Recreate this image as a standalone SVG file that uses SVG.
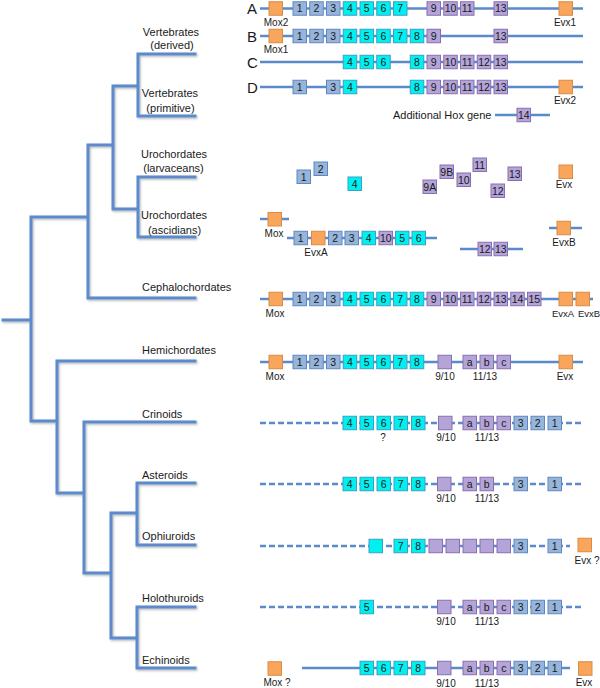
<svg xmlns="http://www.w3.org/2000/svg" width="600" height="688" viewBox="0 0 600 688">
<defs>
<style>
text{font-family:"Liberation Sans",Arial,sans-serif;fill:#1a1a1a}
.tx{font-size:11px}
.c{text-anchor:middle}
.sm{font-size:10px}
.xs{font-size:9.5px}
.n{font-size:10.5px;text-anchor:middle}
.big{font-size:15px}
rect{width:13.5px;height:13.5px;stroke-width:1}
.lb{fill:#97B5DA;stroke:#5F87C0}
.cy{fill:#00F0F0;stroke:#3AA0C4}
.pu{fill:#B4A4D8;stroke:#8670B2}
.or{fill:#F9A55B;stroke:#D98B45}
.gl{stroke:#5B8ACB;stroke-width:2.5;fill:none}
.d{stroke-dasharray:6 3}
.tr{stroke:#5B8ACB;stroke-width:3;fill:none;stroke-linecap:square}
</style>
<filter id="sh" x="-10%" y="-10%" width="130%" height="130%"><feDropShadow dx="1" dy="1.2" stdDeviation="0.8" flood-color="#000" flood-opacity="0.3"/></filter>
</defs>
<rect x="0" y="0" width="600" height="688" style="fill:#fff;stroke:none;width:600px;height:688px"/>

<g id="tree" filter="url(#sh)">
<path class="tr" d="M3 320H31M31 217V421M31 217H88M88 145V298M88 298H195M88 145H113M113 86V209M113 86H138M138 54V116M138 54H195M138 116H195M113 209H138M138 177V237M138 177H195M138 237H195M31 421H57M57 361V493M57 361H195M57 493H84M84 422V573M84 422H195M84 573H111M111 513V638M111 513H137M137 483V545M137 483H195M137 545H195M111 638H137M137 607V668M137 607H195M137 668H195"/>
</g>

<g id="taxa" class="tx">
<text class="tx c" x="171" y="36">Vertebrates</text>
<text class="tx c" x="172" y="49">(derived)</text>
<text class="tx c" x="170" y="97">Vertebrates</text>
<text class="tx c" x="170.5" y="112">(primitive)</text>
<text class="tx c" x="174" y="158">Urochordates</text>
<text class="tx c" x="173.5" y="172">(larvaceans)</text>
<text class="tx c" x="174" y="219">Urochordates</text>
<text class="tx c" x="174.5" y="234">(ascidians)</text>
<text class="tx" x="142" y="291">Cephalochordates</text>
<text class="tx" x="142" y="354">Hemichordates</text>
<text class="tx" x="142" y="418">Crinoids</text>
<text class="tx" x="142" y="479">Asteroids</text>
<text class="tx" x="142" y="540">Ophiuroids</text>
<text class="tx" x="142" y="602">Holothuroids</text>
<text class="tx" x="142" y="664">Echinoids</text>
</g>

<g id="connectors">
<path class="gl" d="M260 8.5H583M260 36H583M260 62H583M260 87H583M495 115H550M260 219H289M287 238H437M460 249H523M549 228H582M260 299H593M260 362H583M302 668H570"/>
<path class="gl d" d="M260 423H582M260 484H582M260 546H570M260 607H582"/>
</g>

<g id="rowA">
<text class="big" x="247" y="14">A</text>
<rect class="or" x="269" y="1.75"/>
<rect class="lb" x="293" y="1.75"/><text class="n" x="299.75" y="12.2">1</text>
<rect class="lb" x="309.75" y="1.75"/><text class="n" x="316.5" y="12.2">2</text>
<rect class="lb" x="326.5" y="1.75"/><text class="n" x="333.25" y="12.2">3</text>
<rect class="cy" x="343.25" y="1.75"/><text class="n" x="350" y="12.2">4</text>
<rect class="cy" x="360" y="1.75"/><text class="n" x="366.75" y="12.2">5</text>
<rect class="cy" x="376.75" y="1.75"/><text class="n" x="383.5" y="12.2">6</text>
<rect class="cy" x="393.5" y="1.75"/><text class="n" x="400.25" y="12.2">7</text>
<rect class="pu" x="427" y="1.75"/><text class="n" x="433.75" y="12.2">9</text>
<rect class="pu" x="443.75" y="1.75"/><text class="n" x="450.5" y="12.2">10</text>
<rect class="pu" x="460.5" y="1.75"/><text class="n" x="467.25" y="12.2">11</text>
<rect class="pu" x="494" y="1.75"/><text class="n" x="500.75" y="12.2">13</text>
<rect class="or" x="559" y="1.75"/>
<text class="sm c" x="276" y="26">Mox2</text>
<text class="sm c" x="565" y="26">Evx1</text>
</g>

<g id="rowB">
<text class="big" x="247" y="41.5">B</text>
<rect class="or" x="269" y="29.25"/>
<rect class="lb" x="293" y="29.25"/><text class="n" x="299.75" y="39.7">1</text>
<rect class="lb" x="309.75" y="29.25"/><text class="n" x="316.5" y="39.7">2</text>
<rect class="lb" x="326.5" y="29.25"/><text class="n" x="333.25" y="39.7">3</text>
<rect class="cy" x="343.25" y="29.25"/><text class="n" x="350" y="39.7">4</text>
<rect class="cy" x="360" y="29.25"/><text class="n" x="366.75" y="39.7">5</text>
<rect class="cy" x="376.75" y="29.25"/><text class="n" x="383.5" y="39.7">6</text>
<rect class="cy" x="393.5" y="29.25"/><text class="n" x="400.25" y="39.7">7</text>
<rect class="cy" x="410.25" y="29.25"/><text class="n" x="417" y="39.7">8</text>
<rect class="pu" x="427" y="29.25"/><text class="n" x="433.75" y="39.7">9</text>
<rect class="pu" x="494" y="29.25"/><text class="n" x="500.75" y="39.7">13</text>
<text class="sm c" x="276" y="53">Mox1</text>
</g>

<g id="rowC">
<text class="big" x="247" y="67.5">C</text>
<rect class="cy" x="343.25" y="55.25"/><text class="n" x="350" y="65.7">4</text>
<rect class="cy" x="360" y="55.25"/><text class="n" x="366.75" y="65.7">5</text>
<rect class="cy" x="376.75" y="55.25"/><text class="n" x="383.5" y="65.7">6</text>
<rect class="cy" x="410.25" y="55.25"/><text class="n" x="417" y="65.7">8</text>
<rect class="pu" x="427" y="55.25"/><text class="n" x="433.75" y="65.7">9</text>
<rect class="pu" x="443.75" y="55.25"/><text class="n" x="450.5" y="65.7">10</text>
<rect class="pu" x="460.5" y="55.25"/><text class="n" x="467.25" y="65.7">11</text>
<rect class="pu" x="477.25" y="55.25"/><text class="n" x="484" y="65.7">12</text>
<rect class="pu" x="494" y="55.25"/><text class="n" x="500.75" y="65.7">13</text>
</g>

<g id="rowD">
<text class="big" x="247" y="92.5">D</text>
<rect class="lb" x="293" y="80.25"/><text class="n" x="299.75" y="90.7">1</text>
<rect class="lb" x="326.5" y="80.25"/><text class="n" x="333.25" y="90.7">3</text>
<rect class="cy" x="343.25" y="80.25"/><text class="n" x="350" y="90.7">4</text>
<rect class="cy" x="410.25" y="80.25"/><text class="n" x="417" y="90.7">8</text>
<rect class="pu" x="427" y="80.25"/><text class="n" x="433.75" y="90.7">9</text>
<rect class="pu" x="443.75" y="80.25"/><text class="n" x="450.5" y="90.7">10</text>
<rect class="pu" x="460.5" y="80.25"/><text class="n" x="467.25" y="90.7">11</text>
<rect class="pu" x="477.25" y="80.25"/><text class="n" x="484" y="90.7">12</text>
<rect class="pu" x="494" y="80.25"/><text class="n" x="500.75" y="90.7">13</text>
<rect class="or" x="559" y="80.25"/>
<text class="sm c" x="565" y="104">Evx2</text>
</g>

<g id="extraHox">
<text class="tx" x="393" y="119">Additional Hox gene</text>
<rect class="pu" x="517" y="108.25"/><text class="n" x="523.75" y="118.7">14</text>
</g>

<g id="larvaceans">
<rect class="lb" x="297" y="170"/><text class="n" x="303.75" y="180.7">1</text>
<rect class="lb" x="314" y="162"/><text class="n" x="320.75" y="172.7">2</text>
<rect class="cy" x="348" y="177"/><text class="n" x="354.75" y="187.7">4</text>
<rect class="pu" x="423" y="180"/><text class="n" x="429.75" y="190.7">9A</text>
<rect class="pu" x="440" y="165"/><text class="n" x="446.75" y="175.7">9B</text>
<rect class="pu" x="457" y="173"/><text class="n" x="463.75" y="183.7">10</text>
<rect class="pu" x="473" y="158"/><text class="n" x="479.75" y="168.7">11</text>
<rect class="pu" x="491" y="184"/><text class="n" x="497.75" y="194.7">12</text>
<rect class="pu" x="508" y="167"/><text class="n" x="514.75" y="177.7">13</text>
<rect class="or" x="559" y="165"/>
<text class="sm c" x="564" y="188">Evx</text>
</g>

<g id="ascidians">
<rect class="or" x="268" y="212.5"/>
<text class="sm c" x="274" y="237">Mox</text>
<rect class="lb" x="294" y="231.25"/><text class="n" x="300.75" y="241.7">1</text>
<rect class="or" x="311.5" y="231.25"/>
<rect class="lb" x="328.5" y="231.25"/><text class="n" x="335.25" y="241.7">2</text>
<rect class="lb" x="345" y="231.25"/><text class="n" x="351.75" y="241.7">3</text>
<rect class="cy" x="362" y="231.25"/><text class="n" x="368.75" y="241.7">4</text>
<rect class="pu" x="379" y="231.25"/><text class="n" x="385.75" y="241.7">10</text>
<rect class="cy" x="395.5" y="231.25"/><text class="n" x="402.25" y="241.7">5</text>
<rect class="cy" x="412" y="231.25"/><text class="n" x="418.75" y="241.7">6</text>
<text class="sm c" x="316" y="256">EvxA</text>
<rect class="pu" x="478" y="242.25"/><text class="n" x="484.75" y="252.7">12</text>
<rect class="pu" x="494" y="242.25"/><text class="n" x="500.75" y="252.7">13</text>
<rect class="or" x="557" y="221.25"/>
<text class="sm c" x="564" y="246">EvxB</text>
</g>

<g id="cephalochordates">
<rect class="or" x="269" y="292.25"/>
<rect class="lb" x="293" y="292.25"/><text class="n" x="299.75" y="302.7">1</text>
<rect class="lb" x="309.75" y="292.25"/><text class="n" x="316.5" y="302.7">2</text>
<rect class="lb" x="326.5" y="292.25"/><text class="n" x="333.25" y="302.7">3</text>
<rect class="cy" x="343.25" y="292.25"/><text class="n" x="350" y="302.7">4</text>
<rect class="cy" x="360" y="292.25"/><text class="n" x="366.75" y="302.7">5</text>
<rect class="cy" x="376.75" y="292.25"/><text class="n" x="383.5" y="302.7">6</text>
<rect class="cy" x="393.5" y="292.25"/><text class="n" x="400.25" y="302.7">7</text>
<rect class="cy" x="410.25" y="292.25"/><text class="n" x="417" y="302.7">8</text>
<rect class="pu" x="427" y="292.25"/><text class="n" x="433.75" y="302.7">9</text>
<rect class="pu" x="443.75" y="292.25"/><text class="n" x="450.5" y="302.7">10</text>
<rect class="pu" x="460.5" y="292.25"/><text class="n" x="467.25" y="302.7">11</text>
<rect class="pu" x="477.25" y="292.25"/><text class="n" x="484" y="302.7">12</text>
<rect class="pu" x="494" y="292.25"/><text class="n" x="500.75" y="302.7">13</text>
<rect class="pu" x="510.75" y="292.25"/><text class="n" x="517.5" y="302.7">14</text>
<rect class="pu" x="527.5" y="292.25"/><text class="n" x="534.25" y="302.7">15</text>
<rect class="or" x="559" y="292.25"/>
<rect class="or" x="576" y="292.25"/>
<text class="sm c" x="275" y="317">Mox</text>
<text class="xs c" x="563" y="317">EvxA</text>
<text class="xs c" x="589" y="317">EvxB</text>
</g>

<g id="hemichordates">
<rect class="or" x="269" y="355.25"/>
<rect class="lb" x="293" y="355.25"/><text class="n" x="299.75" y="365.7">1</text>
<rect class="lb" x="309.75" y="355.25"/><text class="n" x="316.5" y="365.7">2</text>
<rect class="lb" x="326.5" y="355.25"/><text class="n" x="333.25" y="365.7">3</text>
<rect class="cy" x="343.25" y="355.25"/><text class="n" x="350" y="365.7">4</text>
<rect class="cy" x="360" y="355.25"/><text class="n" x="366.75" y="365.7">5</text>
<rect class="cy" x="376.75" y="355.25"/><text class="n" x="383.5" y="365.7">6</text>
<rect class="cy" x="393.5" y="355.25"/><text class="n" x="400.25" y="365.7">7</text>
<rect class="cy" x="410.25" y="355.25"/><text class="n" x="417" y="365.7">8</text>
<rect class="pu" x="438" y="355.25"/>
<rect class="pu" x="463" y="355.25"/><text class="n" x="469.75" y="365.7">a</text>
<rect class="pu" x="480" y="355.25"/><text class="n" x="486.75" y="365.7">b</text>
<rect class="pu" x="497" y="355.25"/><text class="n" x="503.75" y="365.7">c</text>
<rect class="or" x="559" y="355.25"/>
<text class="sm c" x="275" y="380">Mox</text>
<text class="sm c" x="445" y="380">9/10</text>
<text class="sm c" x="485" y="380">11/13</text>
<text class="sm c" x="565" y="380">Evx</text>
</g>

<g id="crinoids">
<rect class="cy" x="343" y="416.25"/><text class="n" x="349.75" y="426.7">4</text>
<rect class="cy" x="360" y="416.25"/><text class="n" x="366.75" y="426.7">5</text>
<rect class="cy" x="377" y="416.25"/><text class="n" x="383.75" y="426.7">6</text>
<rect class="cy" x="394" y="416.25"/><text class="n" x="400.75" y="426.7">7</text>
<rect class="cy" x="411.5" y="416.25"/><text class="n" x="418.25" y="426.7">8</text>
<rect class="pu" x="438.5" y="416.25"/>
<rect class="pu" x="463" y="416.25"/><text class="n" x="469.75" y="426.7">a</text>
<rect class="pu" x="480" y="416.25"/><text class="n" x="486.75" y="426.7">b</text>
<rect class="pu" x="497" y="416.25"/><text class="n" x="503.75" y="426.7">c</text>
<rect class="lb" x="514" y="416.25"/><text class="n" x="520.75" y="426.7">3</text>
<rect class="lb" x="531" y="416.25"/><text class="n" x="537.75" y="426.7">2</text>
<rect class="lb" x="548" y="416.25"/><text class="n" x="554.75" y="426.7">1</text>
<text class="sm c" x="383" y="441">?</text>
<text class="sm c" x="446" y="441">9/10</text>
<text class="sm c" x="487" y="441">11/13</text>
</g>

<g id="asteroids">
<rect class="cy" x="343" y="477.25"/><text class="n" x="349.75" y="487.7">4</text>
<rect class="cy" x="360" y="477.25"/><text class="n" x="366.75" y="487.7">5</text>
<rect class="cy" x="377" y="477.25"/><text class="n" x="383.75" y="487.7">6</text>
<rect class="cy" x="394" y="477.25"/><text class="n" x="400.75" y="487.7">7</text>
<rect class="cy" x="411.5" y="477.25"/><text class="n" x="418.25" y="487.7">8</text>
<rect class="pu" x="437.5" y="477.25"/>
<rect class="pu" x="463" y="477.25"/><text class="n" x="469.75" y="487.7">a</text>
<rect class="pu" x="480" y="477.25"/><text class="n" x="486.75" y="487.7">b</text>
<rect class="lb" x="514" y="477.25"/><text class="n" x="520.75" y="487.7">3</text>
<rect class="lb" x="548" y="477.25"/><text class="n" x="554.75" y="487.7">1</text>
<text class="sm c" x="446" y="502">9/10</text>
<text class="sm c" x="487" y="502">11/13</text>
</g>

<g id="ophiuroids">
<rect class="cy" x="369" y="539.25"/>
<rect class="cy" x="394" y="539.25"/><text class="n" x="400.75" y="549.7">7</text>
<rect class="cy" x="411.5" y="539.25"/><text class="n" x="418.25" y="549.7">8</text>
<rect class="pu" x="429" y="539.25"/>
<rect class="pu" x="446" y="539.25"/>
<rect class="pu" x="463" y="539.25"/>
<rect class="pu" x="480" y="539.25"/>
<rect class="pu" x="497" y="539.25"/>
<rect class="lb" x="514" y="539.25"/><text class="n" x="520.75" y="549.7">3</text>
<rect class="lb" x="548" y="539.25"/><text class="n" x="554.75" y="549.7">1</text>
<rect class="or" x="578" y="538.25"/>
<text class="sm c" x="587" y="564">Evx ?</text>
</g>

<g id="holothuroids">
<rect class="cy" x="360" y="600.25"/><text class="n" x="366.75" y="610.7">5</text>
<rect class="pu" x="437.5" y="600.25"/>
<rect class="pu" x="463" y="600.25"/><text class="n" x="469.75" y="610.7">a</text>
<rect class="pu" x="480" y="600.25"/><text class="n" x="486.75" y="610.7">b</text>
<rect class="pu" x="497" y="600.25"/><text class="n" x="503.75" y="610.7">c</text>
<rect class="lb" x="514" y="600.25"/><text class="n" x="520.75" y="610.7">3</text>
<rect class="lb" x="531" y="600.25"/><text class="n" x="537.75" y="610.7">2</text>
<rect class="lb" x="548" y="600.25"/><text class="n" x="554.75" y="610.7">1</text>
<text class="sm c" x="446" y="625">9/10</text>
<text class="sm c" x="487" y="625">11/13</text>
</g>

<g id="echinoids">
<rect class="or" x="268" y="661.75"/>
<text class="sm c" x="277" y="686">Mox ?</text>
<rect class="cy" x="360" y="661.25"/><text class="n" x="366.75" y="671.7">5</text>
<rect class="cy" x="377" y="661.25"/><text class="n" x="383.75" y="671.7">6</text>
<rect class="cy" x="394" y="661.25"/><text class="n" x="400.75" y="671.7">7</text>
<rect class="cy" x="411.5" y="661.25"/><text class="n" x="418.25" y="671.7">8</text>
<rect class="pu" x="437.5" y="661.25"/>
<rect class="pu" x="463" y="661.25"/><text class="n" x="469.75" y="671.7">a</text>
<rect class="pu" x="480" y="661.25"/><text class="n" x="486.75" y="671.7">b</text>
<rect class="pu" x="497" y="661.25"/><text class="n" x="503.75" y="671.7">c</text>
<rect class="lb" x="514" y="661.25"/><text class="n" x="520.75" y="671.7">3</text>
<rect class="lb" x="531" y="661.25"/><text class="n" x="537.75" y="671.7">2</text>
<rect class="lb" x="548" y="661.25"/><text class="n" x="554.75" y="671.7">1</text>
<rect class="or" x="578.5" y="661.75"/>
<text class="sm c" x="446" y="687">9/10</text>
<text class="sm c" x="487" y="687">11/13</text>
<text class="sm c" x="584" y="686">Evx</text>
</g>
</svg>
